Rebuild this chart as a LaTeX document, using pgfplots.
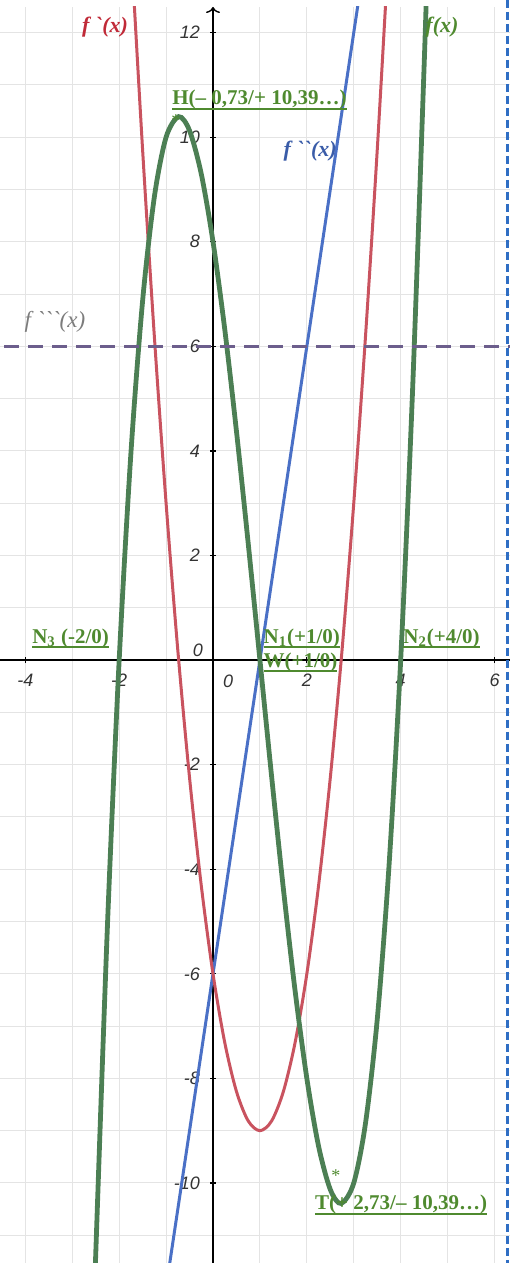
\documentclass[border=0pt]{standalone}
\usepackage{fontspec}
\setmainfont{Liberation Serif}
\setsansfont{Liberation Sans}
\newfontfamily\lblfont{Liberation Serif}
\usepackage{pgfplots}
\pgfplotsset{compat=1.18}
\usetikzlibrary{arrows.meta,calc}
\definecolor{fgreen}{HTML}{4C7F54}
\definecolor{fred}{HTML}{C9535F}
\definecolor{fblue}{HTML}{4A70C6}
\definecolor{fpurple}{HTML}{6C5E8C}
\definecolor{lblgreen}{HTML}{4F8A2F}
\definecolor{lblred}{HTML}{C02A38}
\definecolor{lblblue}{HTML}{3A5CA8}
\definecolor{lblgray}{HTML}{7C7C7C}
\definecolor{gridgray}{HTML}{E4E4E4}
\definecolor{borderblue}{HTML}{2F6EC4}
\newsavebox\ulbox
\newcommand\ul[1]{\sbox\ulbox{#1}\rlap{\rule[-2.4pt]{\wd\ulbox}{0.9pt}}\usebox\ulbox}
\newcommand\gr{\symbol{"60}}
\begin{document}
\begin{tikzpicture}
\begin{axis}[
  scale only axis, width=255pt, height=628pt,
  xmin=-4.54, xmax=6.33, ymin=-11.53, ymax=12.49,
  axis lines=middle,
  axis line style={black, line width=0.7pt},
  x axis line style={-},
  y axis line style={-{To[length=3pt,width=7pt]}},
  xtick={-4,-2,2,4,6}, xticklabels={-4,-2,2,4,6},
  ytick={-10,-8,-6,-4,-2,2,4,6,8,10,12},
  yticklabels={-10,-8,-6,-4,-2,2,4,6,8,10,12},
  minor xtick={-4,-3,...,6}, minor ytick={-11,-10,...,12},
  grid=both,
  major grid style={gridgray, line width=0.5pt},
  minor grid style={gridgray, line width=0.5pt},
  tick style={black, line width=0.6pt},
  major tick length=3pt, minor tick length=0pt,
  tick label style={font=\sffamily\itshape\fontsize{9}{10}\selectfont, text=black!80},
  xticklabel style={yshift=-2pt},
  yticklabel style={xshift=-1.5pt},
  clip mode=individual,
]
\coordinate (sw) at (rel axis cs:0,0);
\coordinate (ne) at (rel axis cs:1,1);
\coordinate (bt) at (axis cs:6.28,-11.53);
\coordinate (bb) at (axis cs:6.28,12.49);
% f''(x) = 6x-6
\addplot[fblue, line width=1.5pt] coordinates {(-1.1,-12.6) (3.2,13.2)};
% f'(x)
\addplot[fred, line width=1.5pt, smooth] coordinates {
  (-1.75,13.6875) (-1.5,9.75) (-1.25,6.1875) (-1,3) (-0.75,0.1875) (-0.5,-2.25)
  (-0.25,-4.3125) (0,-6) (0.25,-7.3125) (0.5,-8.25) (0.75,-8.8125) (1,-9)
  (1.25,-8.8125) (1.5,-8.25) (1.75,-7.3125) (2,-6) (2.25,-4.3125) (2.5,-2.25)
  (2.75,0.1875) (3,3) (3.25,6.1875) (3.5,9.75) (3.75,13.6875)};
% f(x)
\addplot[fgreen, line width=2.4pt, smooth] coordinates {
  (-2.55,-12.789) (-2.5,-11.375) (-2.25,-5.078) (-2,0) (-1.75,3.953) (-1.5,6.875)
  (-1.25,8.859) (-1,10) (-0.732,10.392) (-0.5,10.125) (-0.25,9.297) (0,8)
  (0.25,6.328) (0.5,4.375) (0.75,2.234) (1,0) (1.25,-2.234) (1.5,-4.375)
  (1.75,-6.328) (2,-8) (2.25,-9.297) (2.5,-10.125) (2.732,-10.392) (3,-10)
  (3.25,-8.859) (3.5,-6.875) (3.75,-3.953) (4,0) (4.25,5.078) (4.5,11.375)
  (4.55,12.789)};
% f'''(x) = 6
\addplot[fpurple, line width=1.6pt, dash pattern=on 7.5pt off 4.5pt] coordinates {(-4.45,6) (6.33,6)};

\node[font=\lblfont\bfseries\itshape\fontsize{11}{12}\selectfont, text=lblred] at (axis cs:-2.30,12.10) {f \gr(x)};
\node[font=\lblfont\bfseries\itshape\fontsize{11}{12}\selectfont, text=lblgreen] at (axis cs:4.88,12.10) {f(x)};
\node[font=\lblfont\bfseries\itshape\fontsize{11}{12}\selectfont, text=lblblue] at (axis cs:2.07,9.73) {f \gr\gr(x)};
\node[font=\lblfont\itshape\fontsize{11.5}{12}\selectfont, text=lblgray] at (axis cs:-3.37,6.46) {f \gr\gr\gr(x)};

\begin{scope}[every node/.style={font=\bfseries\fontsize{10.5}{12}\selectfont, text=lblgreen, inner sep=0pt, anchor=west}]
\node at (axis cs:-0.874,10.71) {\ul{H(– 0,73/+ 10,39…)}};
\node at (axis cs:-3.86,0.42) {\ul{N\textsubscript{3} (-2/0)}};
\node at (axis cs:1.07,0.42) {\ul{N\textsubscript{1}(+1/0)}};
\node at (axis cs:1.07,-0.04) {\ul{W(+1/0)}};
\node at (axis cs:4.05,0.42) {\ul{N\textsubscript{2}(+4/0)}};
\node at (axis cs:2.17,-10.42) {\ul{T(+ 2,73/– 10,39…)}};
\end{scope}
\node[font=\fontsize{9}{10}\selectfont, text=lblgreen] at (axis cs:-0.79,10.31) {*};
\node[font=\fontsize{9}{10}\selectfont, text=lblgreen] at (axis cs:2.62,-9.85) {*};

\node[font=\sffamily\itshape\fontsize{9}{10}\selectfont, text=black!80] at (axis cs:-0.32,0.19) {0};
\node[font=\sffamily\itshape\fontsize{9}{10}\selectfont, text=black!80] at (axis cs:0.32,-0.40) {0};
\end{axis}
\draw[borderblue, line width=1.3pt, dash pattern=on 4pt off 2pt]
  ($(bb)+(0,3.5pt)$) -- (bt);
\pgfresetboundingbox
\path (sw) rectangle ($(ne)+(0,3.5pt)$);
\end{tikzpicture}
\end{document}
